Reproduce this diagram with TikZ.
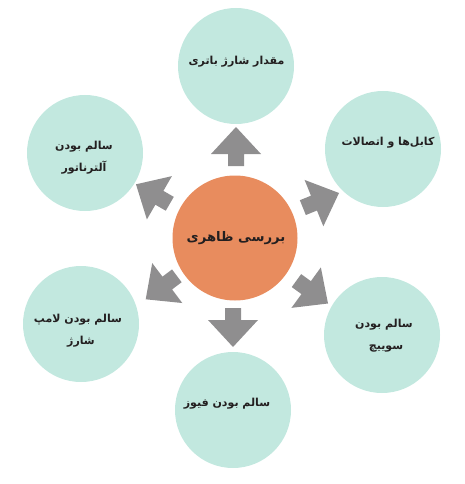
\documentclass[tikz,border=0pt]{standalone}
\usepackage{fontspec}
\newfontfamily\arabicfont[Script=Arabic]{DejaVu Sans}
\TeXXeTstate=1
\definecolor{outerfill}{HTML}{C2E8DF}
\definecolor{centerfill}{HTML}{E88C5E}
\definecolor{arrowfill}{HTML}{8F8E8F}
\definecolor{txt}{HTML}{231F20}
\tikzset{
  outer/.style={circle, fill=outerfill, minimum size=116pt, inner sep=0pt},
  centre/.style={circle, fill=centerfill, minimum size=125pt, inner sep=0pt},
  lbl/.style={text=txt, inner sep=0pt, font=\arabicfont\bfseries\fontsize{11}{13}\selectfont},
  clbl/.style={text=txt, inner sep=0pt, font=\arabicfont\bfseries\fontsize{13.2}{15}\selectfont},
  bigarrow/.pic={\fill[arrowfill] (-39,-8) -- (-27,-8) -- (-27,-25) -- (0,0) -- (-27,25) -- (-27,8) -- (-39,8) -- cycle;}
}
\begin{document}
\begin{tikzpicture}[x=1pt,y=-1pt]
\useasboundingbox (0,0) rectangle (465,484);
% circles
\node[centre] (c) at (235,238) {};
\node[outer] (t) at (236,66) {};
\node[outer] (tr) at (383,149) {};
\node[outer] (br) at (382,335) {};
\node[outer] (b) at (233,410) {};
\node[outer] (bl) at (81,324) {};
\node[outer] (tl) at (85,153) {};
% arrows
\pic[rotate=90] at (236,127) {bigarrow};
\pic[rotate=22] at (339,193) {bigarrow};
\pic[rotate=-36] at (328,303.5) {bigarrow};
\pic[rotate=-90] at (233,347) {bigarrow};
\pic[rotate=217] at (145.7,299.3) {bigarrow};
\pic[rotate=150] at (136,184.3) {bigarrow};
% texts
\node[clbl] (ct) at (236,238) {\beginR بررسی ظاهری\endR};
\node[lbl] (tt) at (236.5,62) {\beginR مقدار شارژ باتری\endR};
\node[lbl] (trt) at (388,143) {\beginR کابل‌ها و اتصالات\endR};
\node[lbl] (tlt1) at (84,147) {\beginR سالم بودن\endR};
\node[lbl] (tlt2) at (84,168) {\beginR آلترناتور\endR};
\node[lbl] (blt1) at (78,320) {\beginR سالم بودن لامپ\endR};
\node[lbl] (blt2) at (81,342) {\beginR شارژ\endR};
\node[lbl] (bt) at (227,404) {\beginR سالم بودن فیوز\endR};
\node[lbl] (brt1) at (384,325) {\beginR سالم بودن\endR};
\node[lbl] (brt2) at (386,349) {\beginR سوییچ\endR};
\end{tikzpicture}
\end{document}
